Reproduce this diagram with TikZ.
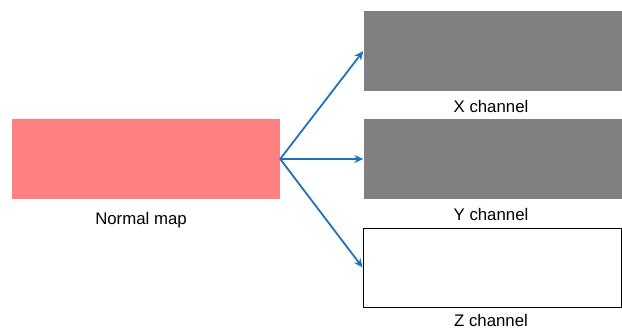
\documentclass[tikz,border=0pt]{standalone}
\usepackage{fontspec}
\setmainfont{Liberation Sans}
\usetikzlibrary{arrows.meta}
\definecolor{normalpink}{RGB}{255,128,128}
\definecolor{chgray}{RGB}{128,128,128}
\definecolor{arrblue}{RGB}{31,113,190}
\tikzset{
  mapbox/.style={rectangle, inner sep=0pt, minimum width=258pt, minimum height=80pt},
  maplabel/.style={inner sep=0pt, font=\fontsize{16.8}{19}\selectfont},
  arr/.style={draw=arrblue, line width=1.8pt, -{Stealth[length=9pt,width=8pt]}}
}
\begin{document}
\begin{tikzpicture}[x=1pt,y=-1pt,line join=round]
	\useasboundingbox (0,0) rectangle (622,330);
	% input map
	\node[mapbox, minimum width=268pt, fill=normalpink] (normal) at (146,159) {};
	\node[maplabel] (normallbl) at (141,220) {Normal map};
	% channels
	\node[mapbox, fill=chgray] (xch) at (492.5,51) {};
	\node[mapbox, fill=chgray] (ych) at (492.5,159) {};
	\node[mapbox, minimum height=79pt, draw=black, line width=0.8pt, fill=white] (zch) at (492,267.5) {};
	\node[maplabel] (xlbl) at (491,106) {X channel};
	\node[maplabel] (ylbl) at (491,214) {Y channel};
	\node[maplabel] (zlbl) at (491,320) {Z channel};
	% arrows
	\draw[arr] (normal.east) -- (xch.west);
	\draw[arr] (normal.east) -- (ych.west);
	\draw[arr] (normal.east) -- (zch.west);
\end{tikzpicture}
\end{document}
